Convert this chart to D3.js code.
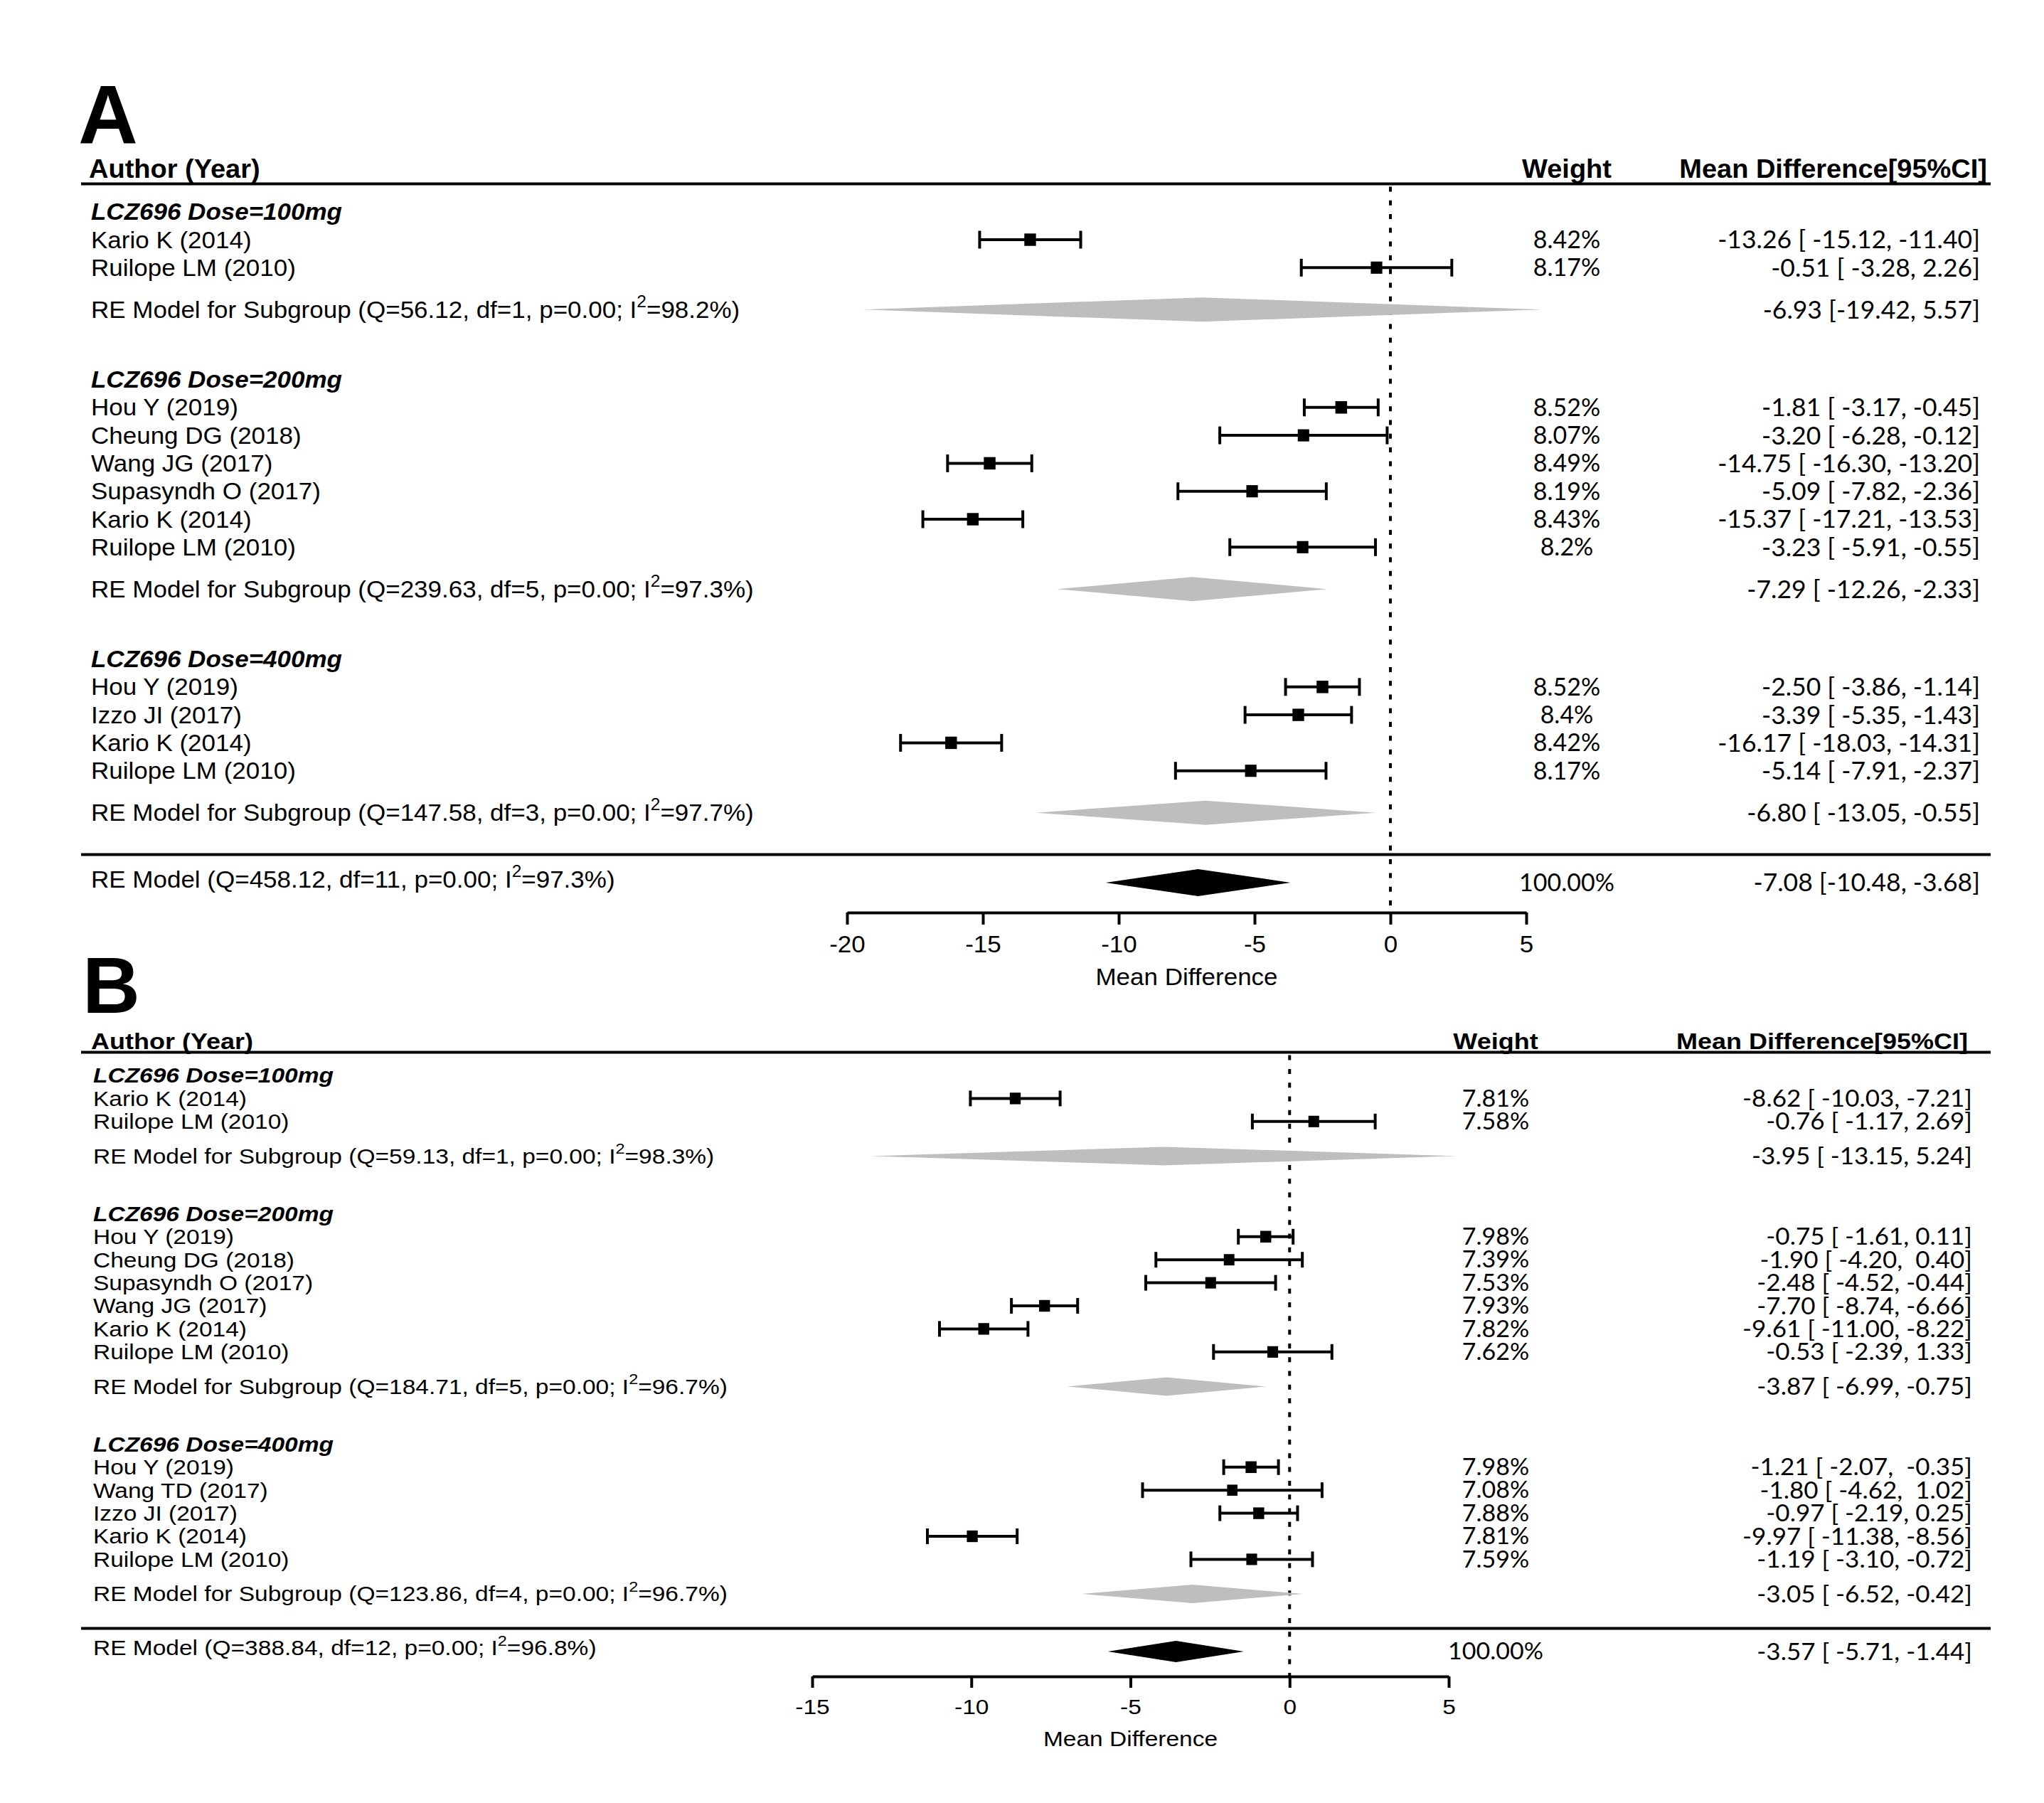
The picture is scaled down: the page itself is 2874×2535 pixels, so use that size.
<!DOCTYPE html>
<html><head><meta charset="utf-8">
<script src="https://cdnjs.cloudflare.com/ajax/libs/d3/7.8.5/d3.min.js"></script>
<style>body{margin:0;background:#fff}svg text{white-space:pre}</style>
</head><body>
<svg id="c" width="2874" height="2535"></svg>
<script>
// ---------------- Panel A data ----------------
const groupsA = ["LCZ696 Dose=100mg", "LCZ696 Dose=200mg", "LCZ696 Dose=400mg"];
const studiesA = ["Kario K (2014)", "Ruilope LM (2010)",
  "Hou Y (2019)", "Cheung DG (2018)", "Wang JG (2017)", "Supasyndh O (2017)", "Kario K (2014)", "Ruilope LM (2010)",
  "Hou Y (2019)", "Izzo JI (2017)", "Kario K (2014)", "Ruilope LM (2010)"];
const studyGroupA = [0, 0, 1, 1, 1, 1, 1, 1, 2, 2, 2, 2];
const meanA  = [-13.26, -0.51, -1.81, -3.20, -14.75, -5.09, -15.37, -3.23, -2.50, -3.39, -16.17, -5.14];
const lowerA = [-15.12, -3.28, -3.17, -6.28, -16.30, -7.82, -17.21, -5.91, -3.86, -5.35, -18.03, -7.91];
const upperA = [-11.40, 2.26, -0.45, -0.12, -13.20, -2.36, -13.53, -0.55, -1.14, -1.43, -14.31, -2.37];
const weightA = [8.42, 8.17, 8.52, 8.07, 8.49, 8.19, 8.43, 8.2, 8.52, 8.4, 8.42, 8.17];
const ciTextA = ["-13.26 [ -15.12, -11.40]", "-0.51 [ -3.28, 2.26]",
  "-1.81 [ -3.17, -0.45]", "-3.20 [ -6.28, -0.12]", "-14.75 [ -16.30, -13.20]", "-5.09 [ -7.82, -2.36]", "-15.37 [ -17.21, -13.53]", "-3.23 [ -5.91, -0.55]",
  "-2.50 [ -3.86, -1.14]", "-3.39 [ -5.35, -1.43]", "-16.17 [ -18.03, -14.31]", "-5.14 [ -7.91, -2.37]"];
const reQA = ["56.12", "239.63", "147.58"];
const reDfA = [1, 5, 3];
const reI2A = ["98.2", "97.3", "97.7"];
const reMeanA  = [-6.93, -7.29, -6.80];
const reLowerA = [-19.42, -12.26, -13.05];
const reUpperA = [5.57, -2.33, -0.55];
const reCiTextA = ["-6.93 [-19.42, 5.57]", "-7.29 [ -12.26, -2.33]", "-6.80 [ -13.05, -0.55]"];
const overallA = [-7.08, -10.48, -3.68];          // mean, lower, upper
const overallStatsA = ["458.12", 11, "97.3"];      // Q, df, I2
const overallTextA = ["100.00%", "-7.08 [-10.48, -3.68]"];
const ticksA = [-20, -15, -10, -5, 0, 5];

// ---------------- Panel B data ----------------
const groupsB = ["LCZ696 Dose=100mg", "LCZ696 Dose=200mg", "LCZ696 Dose=400mg"];
const studiesB = ["Kario K (2014)", "Ruilope LM (2010)",
  "Hou Y (2019)", "Cheung DG (2018)", "Supasyndh O (2017)", "Wang JG (2017)", "Kario K (2014)", "Ruilope LM (2010)",
  "Hou Y (2019)", "Wang TD (2017)", "Izzo JI (2017)", "Kario K (2014)", "Ruilope LM (2010)"];
const studyGroupB = [0, 0, 1, 1, 1, 1, 1, 1, 2, 2, 2, 2, 2];
const meanB  = [-8.62, 0.76, -0.75, -1.90, -2.48, -7.70, -9.61, -0.53, -1.21, -1.80, -0.97, -9.97, -1.19];
const lowerB = [-10.03, -1.17, -1.61, -4.20, -4.52, -8.74, -11.00, -2.39, -2.07, -4.62, -2.19, -11.38, -3.10];
const upperB = [-7.21, 2.69, 0.11, 0.40, -0.44, -6.66, -8.22, 1.33, -0.35, 1.02, 0.25, -8.56, 0.72];
const weightB = [7.81, 7.58, 7.98, 7.39, 7.53, 7.93, 7.82, 7.62, 7.98, 7.08, 7.88, 7.81, 7.59];
const ciTextB = ["-8.62 [ -10.03, -7.21]", "-0.76 [ -1.17, 2.69]",
  "-0.75 [ -1.61, 0.11]", "-1.90 [ -4.20,  0.40]", "-2.48 [ -4.52, -0.44]", "-7.70 [ -8.74, -6.66]", "-9.61 [ -11.00, -8.22]", "-0.53 [ -2.39, 1.33]",
  "-1.21 [ -2.07,  -0.35]", "-1.80 [ -4.62,  1.02]", "-0.97 [ -2.19, 0.25]", "-9.97 [ -11.38, -8.56]", "-1.19 [ -3.10, -0.72]"];
const reQB = ["59.13", "184.71", "123.86"];
const reDfB = [1, 5, 4];
const reI2B = ["98.3", "96.7", "96.7"];
const reMeanB  = [-3.95, -3.87, -3.05];
const reLowerB = [-13.15, -6.99, -6.52];
const reUpperB = [5.24, -0.75, 0.42];
const reCiTextB = ["-3.95 [ -13.15, 5.24]", "-3.87 [ -6.99, -0.75]", "-3.05 [ -6.52, -0.42]"];
const overallB = [-3.57, -5.71, -1.44];
const overallStatsB = ["388.84", 12, "96.8"];
const overallTextB = ["100.00%", "-3.57 [ -5.71, -1.44]"];
const ticksB = [-15, -10, -5, 0, 5];

// ---------------- drawing ----------------
const ARIAL = "'Liberation Sans', Arial, sans-serif";
const NUMF = "Lato, 'Open Sans', sans-serif";
const svg = d3.select("#c");
svg.append("rect").attr("width", 2874).attr("height", 2535).attr("fill", "#fff");

function drawPanel(d, L) {
  const g = svg.append("g");
  const x = d3.scaleLinear().domain(L.domain).range(L.xRange);

  // row layout
  const studyRow = [], headerRow = [], reRow = [];
  let r = 0;
  d.groups.forEach((grp, gi) => {
    headerRow.push(r);
    d.studies.forEach((s, i) => { if (d.studyGroup[i] === gi) { r += 1; studyRow[i] = r; } });
    r += 1.5; reRow.push(r);
    r += 2.5;
  });
  const sepRow = reRow[reRow.length - 1] + 1.5;
  const ovRow = sepRow + 1;
  const y = d3.scaleLinear().domain([0, 1]).range([L.y0, L.y0 + L.rowH]);
  const axisY = y(ovRow) + L.axisOff;

  function text(px, py, str, o) {
    const t = g.append("text")
      .attr("transform", `translate(${px},${py}) scale(1,${o.sy || 1})`)
      .attr("font-family", o.family || ARIAL)
      .attr("font-size", o.fs)
      .attr("font-weight", o.weight || "normal")
      .attr("font-style", o.style || "normal")
      .attr("text-anchor", o.anchor || "start")
      .attr("fill", "#000");
    if (o.center) t.attr("dy", "0.35em");
    if (str !== null) t.text(str);
    return t;
  }
  function reLabel(px, py, prefix, Q, df, I2) {
    const t = text(px, py, null, {fs: L.labelFs, sy: L.sy, center: true});
    t.append("tspan").text(`${prefix}(Q=${Q}, df=${df}, p=0.00; I`);
    t.append("tspan").attr("font-size", L.labelFs * 0.7).attr("dy", -L.labelFs * 0.45).text("2");
    t.append("tspan").attr("dy", L.labelFs * 0.45).text(`=${I2}%)`);
  }

  // panel letter
  text(L.letterX, L.letterY, L.letter, {fs: L.letterFs, weight: "bold"});

  // column headers
  text(L.labelX - 3, L.headBase, "Author (Year)", {fs: L.headFs, weight: "bold", sy: L.sy});
  text(L.weightX, L.headBase, "Weight", {fs: L.headFs, weight: "bold", sy: L.sy, anchor: "middle"});
  text(L.mdHeadRight, L.headBase, "Mean Difference[95%CI]", {fs: L.headFs, weight: "bold", sy: L.sy, anchor: "end"});

  // horizontal rules
  [y(-1), y(sepRow)].forEach(yy => {
    g.append("line").attr("x1", L.lineX[0]).attr("x2", L.lineX[1]).attr("y1", yy).attr("y2", yy)
      .attr("stroke", "#000").attr("stroke-width", 4);
  });

  // reference line at 0
  g.append("line").attr("x1", x(0)).attr("x2", x(0)).attr("y1", y(-1) + 4).attr("y2", axisY)
    .attr("stroke", "#000").attr("stroke-width", 4).attr("stroke-dasharray", "7,12.3");

  // group headers & RE rows
  d.groups.forEach((grp, gi) => {
    text(L.labelX, y(headerRow[gi]), grp, {fs: L.labelFs, sy: L.sy, weight: "bold", style: "italic", center: true});
    reLabel(L.labelX, y(reRow[gi]), "RE Model for Subgroup ", d.reQ[gi], d.reDf[gi], d.reI2[gi]);
    const yy = y(reRow[gi]), h = L.grayH / 2;
    g.append("polygon")
      .attr("points", [[x(d.reLower[gi]), yy], [x(d.reMean[gi]), yy - h], [x(d.reUpper[gi]), yy], [x(d.reMean[gi]), yy + h]].join(" "))
      .attr("fill", "#bebebe");
    text(L.ciRight, yy, d.reCiText[gi], {fs: L.ciFs, sy: L.numSy, family: NUMF, anchor: "end", center: true});
  });

  // studies
  const side = d3.scaleSqrt().domain([0, d3.max(d.weight)]).range([0, L.sqMax]);
  d.studies.forEach((s, i) => {
    const yy = y(studyRow[i]);
    text(L.labelX, yy, s, {fs: L.labelFs, sy: L.sy, center: true});
    g.append("line").attr("x1", x(d.lower[i])).attr("x2", x(d.upper[i])).attr("y1", yy).attr("y2", yy)
      .attr("stroke", "#000").attr("stroke-width", 4);
    [d.lower[i], d.upper[i]].forEach(v => {
      g.append("line").attr("x1", x(v)).attr("x2", x(v)).attr("y1", yy - L.capH / 2).attr("y2", yy + L.capH / 2)
        .attr("stroke", "#000").attr("stroke-width", 4);
    });
    const s2 = side(d.weight[i]);
    g.append("rect").attr("x", x(d.mean[i]) - s2 / 2).attr("y", yy - s2 / 2 - 0.5).attr("width", s2).attr("height", s2 + 1)
      .attr("fill", "#000");
    text(L.weightX, yy, d.weight[i] + "%", {fs: L.numFs, sy: L.numSy, family: NUMF, anchor: "middle", center: true});
    text(L.ciRight, yy, d.ciText[i], {fs: L.ciFs, sy: L.numSy, family: NUMF, anchor: "end", center: true});
  });

  // overall
  const oy = y(ovRow), oh = L.blackH / 2;
  reLabel(L.labelX, oy - 5, "RE Model ", d.ovStats[0], d.ovStats[1], d.ovStats[2]);
  g.append("polygon")
    .attr("points", [[x(d.overall[1]), oy], [x(d.overall[0]), oy - oh], [x(d.overall[2]), oy], [x(d.overall[0]), oy + oh]].join(" "))
    .attr("fill", "#000");
  text(L.weightX, oy, d.ovText[0], {fs: L.numFs, sy: L.numSy, family: NUMF, anchor: "middle", center: true});
  text(L.ciRight, oy, d.ovText[1], {fs: L.ciFs, sy: L.numSy, family: NUMF, anchor: "end", center: true});

  // x axis
  const ax = g.append("g").attr("transform", `translate(0,${axisY})`)
    .call(d3.axisBottom(x).tickValues(d.ticks).tickSize(L.tickSize).tickSizeOuter(0).tickFormat(v => String(v)));
  ax.select(".domain").attr("stroke-width", 4);
  ax.selectAll(".tick line").attr("stroke-width", 4);
  ax.selectAll(".tick text").attr("y", null).attr("dy", "0.35em")
    .attr("transform", `translate(0,${L.tickLabOff}) scale(1,${L.sy})`)
    .attr("font-family", ARIAL).attr("font-size", L.labelFs).attr("fill", "#000");
  text(x((L.domain[0] + L.domain[1]) / 2), axisY + L.titleOff, "Mean Difference", {fs: L.labelFs, sy: L.sy, anchor: "middle", center: true});
}

drawPanel({
  groups: groupsA, studies: studiesA, studyGroup: studyGroupA, mean: meanA, lower: lowerA, upper: upperA,
  weight: weightA, ciText: ciTextA, reQ: reQA, reDf: reDfA, reI2: reI2A, reMean: reMeanA, reLower: reLowerA,
  reUpper: reUpperA, reCiText: reCiTextA, overall: overallA, ovStats: overallStatsA, ovText: overallTextA, ticks: ticksA
}, {
  domain: [-20, 5], xRange: [1191, 2146], y0: 297.7, rowH: 39.3, axisOff: 42,
  labelX: 128, weightX: 2203, ciRight: 2784, mdHeadRight: 2794, headBase: 250, lineX: [114, 2799],
  labelFs: 35, sy: 0.95, headFs: 38, numFs: 34, ciFs: 35.5, numSy: 1, sqMax: 16.5, capH: 25, grayH: 34, blackH: 38,
  tickSize: 17, tickLabOff: 44, titleOff: 90, letter: "A", letterX: 110, letterY: 202, letterFs: 116
});

drawPanel({
  groups: groupsB, studies: studiesB, studyGroup: studyGroupB, mean: meanB, lower: lowerB, upper: upperB,
  weight: weightB, ciText: ciTextB, reQ: reQB, reDf: reDfB, reI2: reI2B, reMean: reMeanB, reLower: reLowerB,
  reUpper: reUpperB, reCiText: reCiTextB, overall: overallB, ovStats: overallStatsB, ovText: overallTextB, ticks: ticksB
}, {
  domain: [-15, 5], xRange: [1142, 2037], y0: 1512, rowH: 32.4, axisOff: 35,
  labelX: 131, weightX: 2103, ciRight: 2773, mdHeadRight: 2767, headBase: 1475, lineX: [114, 2799],
  labelFs: 33.5, sy: 0.88, headFs: 36, numFs: 34, ciFs: 35, numSy: 0.94, sqMax: 15.5, capH: 22, grayH: 26, blackH: 30,
  tickSize: 16, tickLabOff: 43, titleOff: 88, letter: "B", letterX: 116, letterY: 1424, letterFs: 112
});
</script>
</body></html>
